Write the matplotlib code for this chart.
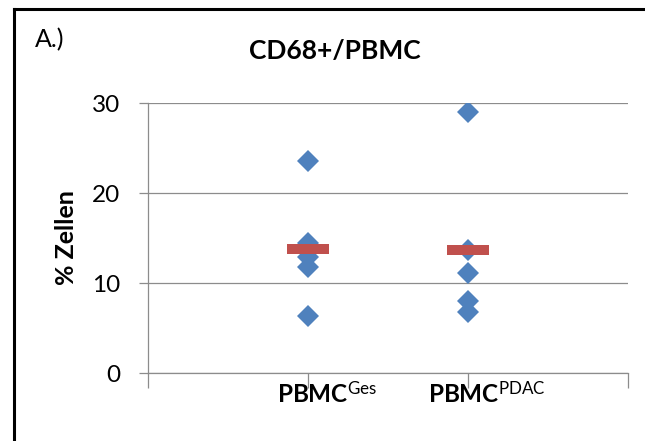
import numpy as np
import matplotlib
matplotlib.use('Agg')
import matplotlib.pyplot as plt
from matplotlib.lines import Line2D
import matplotlib.transforms as mtransforms

# ---- data ----
group_base = ['PBMC', 'PBMC']
group_sup = ['Ges', 'PDAC']
ges_values = [23.6, 14.5, 12.9, 11.8, 6.3]
pdac_values = [29.0, 13.7, 11.1, 8.0, 6.8]
yticks = [0, 10, 20, 30]
title = 'CD68+/PBMC'
panel = 'A.)'
ylabel = '% Zellen'

plt.rcParams['font.family'] = ['Lato', 'DejaVu Sans']
plt.rcParams['mathtext.fontset'] = 'custom'
plt.rcParams['mathtext.rm'] = 'Lato'
plt.rcParams['mathtext.bf'] = 'Lato:bold'
plt.rcParams['mathtext.it'] = 'Lato:italic'

W, H = 645, 441
fig = plt.figure(figsize=(W / 100, H / 100), dpi=100)
ax = fig.add_axes([148 / W, (H - 373) / H, 480 / W, 270 / H])

blue = '#4F81BD'
red = '#C0504D'
gray = '#8C8C8C'

series = [ges_values, pdac_values]
for i, vals in enumerate(series):
    x = np.full(len(vals), i + 1)
    ax.plot(x, vals, linestyle='none', marker='D', markersize=11.3,
            color=blue, markeredgewidth=0, zorder=3)
    ax.plot([i + 1], [np.mean(vals)], linestyle='none', marker='_',
            markersize=30, markeredgewidth=7.2, color=red, zorder=4)

ax.set_xlim(0, 3)
ax.set_ylim(0, 30)
ax.set_yticks(yticks)
ax.set_xticks([0, 1, 2, 3])
ax.set_xticklabels([])
ax.grid(axis='y', color=gray, linewidth=0.9)
ax.set_axisbelow(True)
for s in ['top', 'right']:
    ax.spines[s].set_visible(False)
for s in ['left', 'bottom']:
    ax.spines[s].set_color(gray)
    ax.spines[s].set_linewidth(0.9)
ax.tick_params(axis='y', direction='out', length=6.5, width=0.9, color=gray,
               pad=13.5, labelsize=17.5, labelcolor='#000000')
ax.tick_params(axis='x', direction='out', length=11, width=0.9, color=gray)

ax.set_ylabel(ylabel, fontsize=18, fontweight='bold')
ax.yaxis.set_label_coords(-0.146, 0.5)

# category labels with superscripts
trans = mtransforms.offset_copy(ax.get_xaxis_transform(), fig=fig,
                                x=19, y=-7, units='dots')
for i, (b, s) in enumerate(zip(group_base, group_sup)):
    ax.text(i + 1, 0, r'$\mathbf{%s}^{\mathrm{%s}}$' % (b, s),
            transform=trans, ha='center', va='top', fontsize=17.5)

fig.text(334.5 / W, 1 - 59 / H, title, ha='center', va='baseline',
         fontsize=19, fontweight='bold')
fig.text(35 / W, 1 - 47 / H, panel, ha='left', va='baseline', fontsize=18)

# outer frame (left and top edges)
fig.add_artist(Line2D([14 / W, 14 / W], [0, 1 - 8.5 / H], transform=fig.transFigure,
                      color='black', linewidth=2.2, solid_capstyle='projecting'))
fig.add_artist(Line2D([14 / W, 1], [1 - 8.5 / H, 1 - 8.5 / H], transform=fig.transFigure,
                      color='black', linewidth=2.2, solid_capstyle='projecting'))

fig.savefig('out.png', dpi=100)
